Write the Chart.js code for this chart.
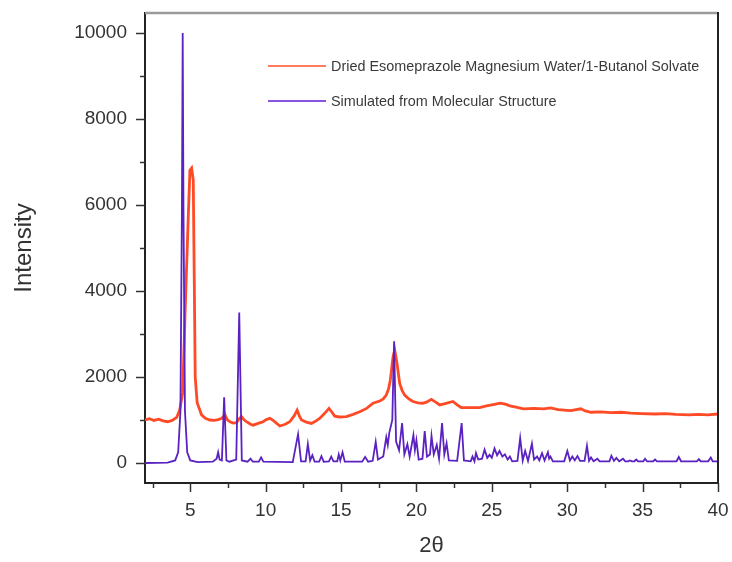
<!DOCTYPE html>
<html>
<head>
<meta charset="utf-8">
<script src="https://cdn.jsdelivr.net/npm/chart.js@4.4.0/dist/chart.umd.min.js"></script>
<style>
html,body{margin:0;padding:0;background:#fff;}
#wrap{width:732px;height:562px;}
</style>
</head>
<body>
<div id="wrap"><canvas id="c" width="732" height="562"></canvas></div>
<script>
// ---- data ----
const seriesNames = [
  "Dried Esomeprazole Magnesium Water/1-Butanol Solvate",
  "Simulated from Molecular Structure"
];
const xTickLabels = [5, 10, 15, 20, 25, 30, 35, 40];
const yTickLabels = [0, 2000, 4000, 6000, 8000, 10000];

// experimental pattern (2θ, intensity)
const expTheta = [2.0,2.3,2.6,2.9,3.2,3.5,3.8,4.1,4.3,4.5,4.65,4.87,4.98,5.09,5.2,5.27,5.33,5.46,5.75,6.0,6.3,6.6,6.85,7.1,7.3,7.45,7.63,7.85,8.07,8.25,8.4,8.55,8.73,9.0,9.17,9.5,9.83,10.05,10.28,10.5,10.94,11.3,11.6,11.9,12.09,12.25,12.38,12.7,13.04,13.3,13.6,13.9,14.2,14.4,14.58,14.9,15.36,15.8,16.24,16.7,17.12,17.56,17.8,18.0,18.15,18.27,18.45,18.56,18.71,18.89,19.05,19.22,19.5,19.77,20.1,20.43,20.7,20.99,21.25,21.54,21.9,22.42,22.7,22.97,23.5,24.2,24.64,25.1,25.54,25.9,26.2,26.6,27.1,27.8,28.44,28.9,29.4,29.8,30.24,30.9,31.2,31.58,32.2,32.9,33.6,34.2,34.9,35.83,36.5,37.2,38.07,38.7,39.3,40.0];
const expIntensity = [1000,1030,990,1020,980,960,990,1060,1230,1630,3400,5730,6810,6860,6580,4180,2000,1400,1120,1040,1000,990,1010,1040,1120,1010,960,930,940,1030,1080,1010,960,900,880,920,960,1010,1040,990,860,900,960,1100,1230,1080,1000,950,920,970,1040,1150,1270,1180,1090,1070,1080,1130,1190,1270,1390,1440,1490,1580,1720,1930,2470,2630,2320,1850,1690,1580,1490,1430,1400,1390,1420,1480,1420,1350,1380,1430,1350,1290,1290,1290,1330,1360,1390,1370,1330,1300,1260,1270,1260,1280,1240,1230,1220,1260,1210,1180,1190,1170,1180,1160,1150,1140,1150,1130,1120,1130,1120,1140];

// simulated pattern (2θ, intensity)
const simTheta = [2.0,3.5,4.0,4.2,4.35,4.45,4.5,4.55,4.65,4.8,5.0,5.5,6.5,6.75,6.85,6.95,7.1,7.25,7.4,7.6,8.05,8.25,8.42,8.8,9.0,9.15,9.55,9.7,9.85,11.8,12.15,12.35,12.65,12.8,12.95,13.1,13.25,13.55,13.7,13.85,14.2,14.35,14.5,14.75,14.85,14.95,15.1,15.25,16.4,16.6,16.8,17.1,17.3,17.45,17.8,18.0,18.1,18.2,18.4,18.52,18.65,18.85,19.05,19.2,19.4,19.55,19.8,19.9,20.0,20.15,20.4,20.55,20.7,20.9,21.0,21.15,21.35,21.5,21.7,21.85,22.0,22.15,22.7,23.0,23.15,23.6,23.72,23.85,23.95,24.1,24.35,24.52,24.7,24.85,25.0,25.18,25.35,25.51,25.7,25.87,26.05,26.2,26.35,26.7,26.88,27.05,27.21,27.4,27.66,27.8,28.0,28.15,28.33,28.5,28.72,28.8,28.89,29.05,29.8,30.01,30.18,30.34,30.5,30.68,30.85,31.15,31.31,31.45,31.58,31.75,32.0,32.15,32.8,32.93,33.1,33.26,33.45,33.7,33.85,34.05,34.15,34.3,34.45,34.58,34.7,35.05,35.16,35.3,35.7,35.83,35.95,37.25,37.4,37.55,38.6,38.73,38.85,39.35,39.52,39.65,40.0];
const simIntensity = [0,10,60,250,1200,6000,10000,6000,1200,250,60,20,30,100,250,80,60,1530,60,30,80,3500,60,30,100,30,30,130,30,20,670,40,40,440,60,180,30,30,160,30,40,150,40,40,200,60,250,30,30,140,30,50,490,80,150,600,420,700,1000,2830,500,300,930,200,440,150,650,300,530,80,100,740,150,200,630,200,420,100,930,200,460,60,50,930,60,40,150,40,230,80,100,310,120,190,120,340,180,280,150,200,80,150,40,50,580,60,280,50,450,80,150,60,230,60,250,100,150,40,40,280,60,150,60,160,50,50,400,50,130,40,100,40,40,170,50,120,40,100,40,40,60,40,40,80,40,40,100,40,40,80,40,40,140,40,40,90,40,40,130,40,40];

const expColor = '#ff4a26';
const simColor = '#5a22c0';

const toPts = (xs, ys) => xs.map((x, i) => ({x: x, y: ys[i]}));

const FONT = '"Liberation Sans", Arial, sans-serif';

const decor = {
  id: 'decor',
  afterDraw(chart) {
    const ctx = chart.ctx;
    const a = chart.chartArea;
    const xs = chart.scales.x, ys = chart.scales.y;
    ctx.save();
    ctx.strokeStyle = '#9a9a9a';
    ctx.lineWidth = 2.5;
    ctx.beginPath(); ctx.moveTo(a.left, a.top); ctx.lineTo(a.right, a.top); ctx.stroke();
    ctx.strokeStyle = '#222';
    ctx.lineWidth = 2;
    ctx.beginPath(); ctx.moveTo(a.right, a.top - 1); ctx.lineTo(a.right, a.bottom); ctx.stroke();
    ctx.strokeStyle = '#333';
    ctx.lineWidth = 1.5;
    for (let v = 2.5; v <= 40.001; v += 2.5) {
      const px = Math.round(xs.getPixelForValue(v)) + 0.5;
      const len = (Math.abs(v / 5 - Math.round(v / 5)) < 1e-6) ? 9 : 5;
      ctx.beginPath(); ctx.moveTo(px, a.bottom); ctx.lineTo(px, a.bottom + len); ctx.stroke();
    }
    for (let v = 0; v <= 10000; v += 1000) {
      const py = Math.round(ys.getPixelForValue(v)) + 0.5;
      const len = (v % 2000 === 0) ? 9 : 5;
      ctx.beginPath(); ctx.moveTo(a.left, py); ctx.lineTo(a.left - len, py); ctx.stroke();
    }
    const items = [[seriesNames[0], '#ff7a5e', 66], [seriesNames[1], '#8a55dd', 101]];
    ctx.font = '14.4px ' + FONT;
    ctx.textBaseline = 'middle';
    items.forEach(it => {
      ctx.strokeStyle = it[1];
      ctx.lineWidth = 2;
      ctx.beginPath(); ctx.moveTo(268, it[2]); ctx.lineTo(326, it[2]); ctx.stroke();
      ctx.fillStyle = '#3a3a3a';
      ctx.fillText(it[0], 331, it[2] + 1);
    });
    ctx.restore();
  }
};

new Chart(document.getElementById('c'), {
  type: 'scatter',
  data: {
    datasets: [
      { label: seriesNames[1], data: toPts(simTheta, simIntensity), showLine: true,
        borderColor: simColor, backgroundColor: simColor, borderWidth: 1.8, pointRadius: 0, tension: 0 },
      { label: seriesNames[0], data: toPts(expTheta, expIntensity), showLine: true,
        borderColor: expColor, backgroundColor: expColor, borderWidth: 2.8, pointRadius: 0, tension: 0 }
    ]
  },
  options: {
    responsive: false,
    animation: false,
    devicePixelRatio: 1,
    layout: { padding: { top: 13, right: 14, left: 0, bottom: 0 } },
    plugins: { legend: { display: false }, tooltip: { enabled: false } },
    scales: {
      x: {
        type: 'linear', min: 2, max: 40,
        afterBuildTicks: s => { s.ticks = xTickLabels.map(v => ({value: v})); },
        afterFit: s => { s.height = 79; s.paddingLeft = 0; s.paddingRight = 0; },
        grid: { display: true, drawOnChartArea: false, drawTicks: false },
        border: { display: true, color: '#222', width: 2 },
        ticks: { padding: 16, color: '#333', font: { family: FONT, size: 19 }, maxRotation: 0, autoSkip: false,
                 callback: v => String(v) },
        title: { display: true, text: '2θ', color: '#333', font: { family: FONT, size: 22 }, padding: { top: 0, bottom: 3 } }
      },
      y: {
        type: 'linear', min: -465, max: 10465,
        afterBuildTicks: s => { s.ticks = yTickLabels.map(v => ({value: v})); },
        afterFit: s => { s.width = 145; s.paddingTop = 0; s.paddingBottom = 0; },
        grid: { display: true, drawOnChartArea: false, drawTicks: false },
        border: { display: true, color: '#222', width: 2 },
        ticks: { padding: 18, color: '#333', font: { family: FONT, size: 19 }, callback: v => String(v) },
        title: { display: true, text: 'Intensity', color: '#333', font: { family: FONT, size: 24 }, padding: { top: 10, bottom: 0 } }
      }
    }
  },
  plugins: [decor]
});
</script>
</body>
</html>
